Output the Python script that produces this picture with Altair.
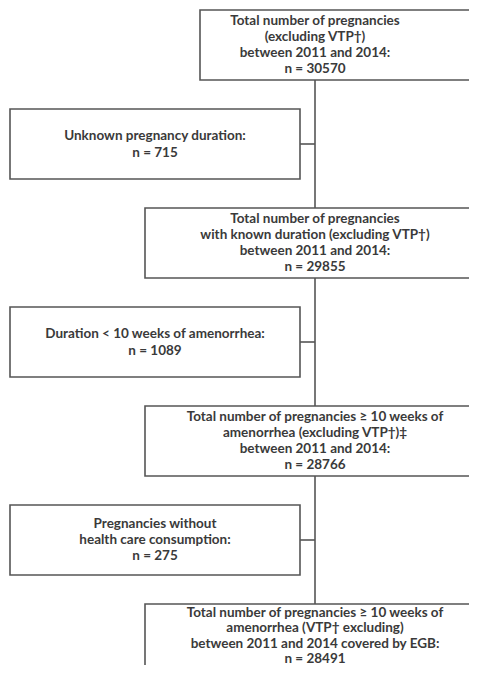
import altair as alt
import pandas as pd

# ---- content ----
main_lines = [
    ["Total number of pregnancies", "(excluding VTP†)", "between 2011 and 2014:"],
    ["Total number of pregnancies", "with known duration (excluding VTP†)", "between 2011 and 2014:"],
    ["Total number of pregnancies ≥ 10 weeks of", "amenorrhea (excluding VTP†)‡", "between 2011 and 2014:"],
    ["Total number of pregnancies ≥ 10 weeks of", "amenorrhea (VTP† excluding)", "between 2011 and 2014 covered by EGB:"],
]
main_counts = [30570, 29855, 28766, 28491]
excl_lines = [
    ["Unknown pregnancy duration:"],
    ["Duration < 10 weeks of amenorrhea:"],
    ["Pregnancies without", "health care consumption:"],
]
excl_counts = [715, 1089, 275]

# ---- layout (page pixel coordinates) ----
PAGE_W, PAGE_H, M = 477, 673, 8
TOP0, STEP, BOX_H = 10, 99, 70
MAIN_X2 = 500
MAIN_X_FIRST, MAIN_X = 200, 145
SIDE_X, SIDE_X2 = 10, 300
SPINE = 315
LINE_H = 16

rects, rules, texts = [], [], []
for i, (lines, n) in enumerate(zip(main_lines, main_counts)):
    top = TOP0 + 2 * i * STEP
    rects.append(dict(x=MAIN_X_FIRST if i == 0 else MAIN_X, x2=MAIN_X2, y=top, y2=top + BOX_H))
    allx = lines + [f"n = {n}"]
    last = i == len(main_lines) - 1
    lh = 15.5 if last else LINE_H                 # last box is cut by the page edge
    mid = top + BOX_H / 2 - (3 if last else 0)
    y0 = mid - (len(allx) - 1) * lh / 2
    for k, t in enumerate(allx):
        texts.append(dict(x=SPINE, y=y0 + k * lh, t=t))
for i, (lines, n) in enumerate(zip(excl_lines, excl_counts)):
    top = TOP0 + (2 * i + 1) * STEP
    rects.append(dict(x=SIDE_X, x2=SIDE_X2, y=top, y2=top + BOX_H))
    rules.append(dict(x=SIDE_X2, x2=SPINE, y=top + BOX_H / 2, y2=top + BOX_H / 2))
    allx = lines + [f"n = {n}"]
    lh = 17 if len(allx) == 2 else LINE_H
    y0 = top + BOX_H / 2 - (len(allx) - 1) * lh / 2
    for k, t in enumerate(allx):
        texts.append(dict(x=(SIDE_X + SIDE_X2) / 2, y=y0 + k * lh, t=t))
rules.append(dict(x=SPINE, x2=SPINE, y=TOP0 + BOX_H, y2=TOP0 + 6 * STEP))

xs = alt.Scale(domain=[M, PAGE_W - M], nice=False, zero=False)
ys = alt.Scale(domain=[M, PAGE_H - M], nice=False, zero=False, reverse=True)

STROKE = "#555555"
rect_layer = alt.Chart(pd.DataFrame(rects)).mark_rect(
    fill="white", stroke=STROKE, strokeWidth=1.6, clip=True
).encode(
    x=alt.X("x:Q", scale=xs, axis=None), x2="x2:Q",
    y=alt.Y("y:Q", scale=ys, axis=None), y2="y2:Q",
)
rule_layer = alt.Chart(pd.DataFrame(rules)).mark_rule(
    stroke=STROKE, strokeWidth=1.6
).encode(
    x=alt.X("x:Q", scale=xs, axis=None), x2="x2:Q",
    y=alt.Y("y:Q", scale=ys, axis=None), y2="y2:Q",
)
text_layer = alt.Chart(pd.DataFrame(texts)).mark_text(
    font="Lato", fontWeight="bold", fontSize=13.5, color="#3a3a3a",
    align="center", baseline="middle",
).encode(
    x=alt.X("x:Q", scale=xs, axis=None),
    y=alt.Y("y:Q", scale=ys, axis=None),
    text="t:N",
)

chart = alt.layer(rule_layer, rect_layer, text_layer).properties(
    width=PAGE_W - 2 * M, height=PAGE_H - 2 * M, padding=0,
    autosize=alt.AutoSizeParams(type="none"),
).configure_view(stroke=None)

chart.save("out.html", embed_options={"renderer": "svg", "actions": False})
